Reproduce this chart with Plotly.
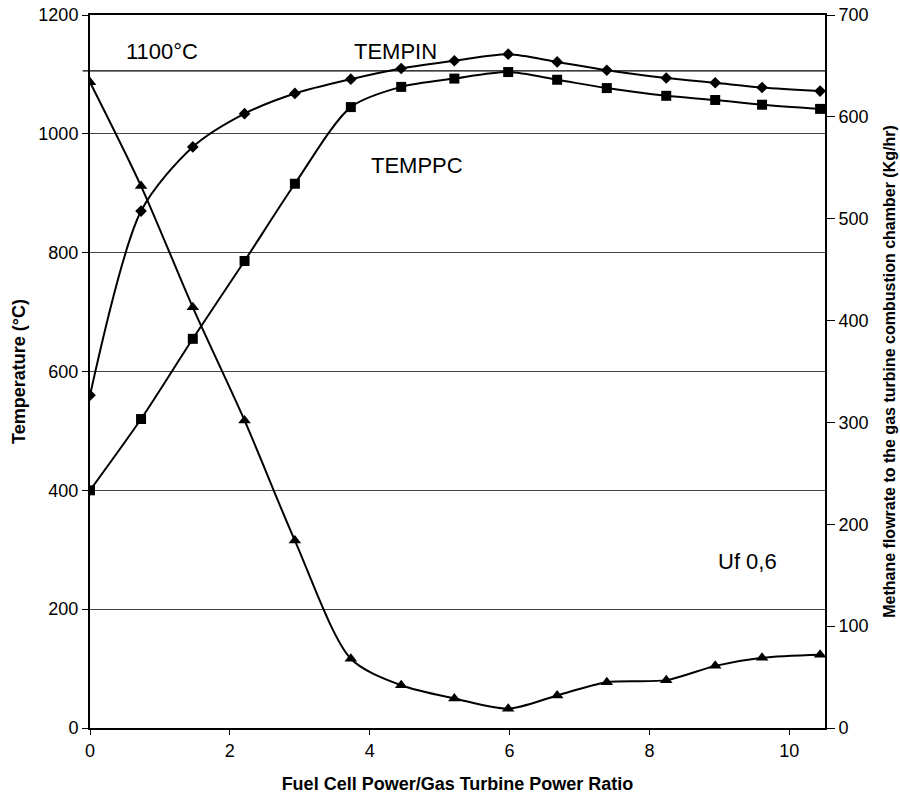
import plotly.graph_objects as go

# Fuel cell / gas turbine power ratio (shared x values)
ratio = [0.0, 0.73, 1.47, 2.21, 2.93, 3.73, 4.45, 5.21, 5.98, 6.68,
         7.39, 8.24, 8.94, 9.61, 10.44]

# Inlet temperature TEMPIN (°C)
tempin = [560, 870, 978, 1034, 1068, 1092, 1110, 1123, 1134, 1121,
          1107, 1094, 1086, 1078, 1072]

# Post-combustor temperature TEMPPC (°C)
temppc = [400, 520, 655, 786, 916, 1045, 1079, 1093, 1104, 1091,
          1077, 1064, 1057, 1049, 1042]

# Methane flow to the gas turbine combustion chamber (kg/hr)
methane = [634, 532, 413, 302, 184, 68, 42, 29, 19, 32,
           45, 47, 61, 69, 72]

limit_temp = 1106  # 1100 °C reference line

font_family = "Liberation Sans, Arial, sans-serif"

fig = go.Figure()

line_style = dict(color="black", width=2, shape="spline", smoothing=0.8)

fig.add_trace(go.Scatter(
    x=ratio, y=tempin, mode="lines+markers", name="TEMPIN",
    line=line_style,
    marker=dict(symbol="diamond", size=9, color="black"),
))
fig.add_trace(go.Scatter(
    x=ratio, y=temppc, mode="lines+markers", name="TEMPPC",
    line=line_style,
    marker=dict(symbol="square", size=10, color="black"),
))
fig.add_trace(go.Scatter(
    x=ratio, y=methane, mode="lines+markers", name="Uf 0,6",
    line=line_style, yaxis="y2",
    marker=dict(symbol="triangle-up", size=11, color="black"),
))

# 1100 °C limit line
fig.add_shape(type="line", xref="paper", yref="y",
              x0=-0.01, x1=1.0, y0=limit_temp, y1=limit_temp,
              line=dict(color="black", width=1.3))

text_font = dict(family=font_family, size=22, color="black")
fig.add_annotation(x=1.03, y=1138, text="1100°C", showarrow=False,
                   xanchor="center", yanchor="middle", font=text_font)
fig.add_annotation(x=4.37, y=1138, text="TEMPIN", showarrow=False,
                   xanchor="center", yanchor="middle", font=text_font)
fig.add_annotation(x=4.68, y=947, text="TEMPPC", showarrow=False,
                   xanchor="center", yanchor="middle", font=text_font)
fig.add_annotation(x=9.40, y=281, text="Uf 0,6", showarrow=False,
                   xanchor="center", yanchor="middle", font=text_font)

tick_font = dict(family=font_family, size=18, color="black")
title_font = dict(family=font_family, size=18, color="black", weight="bold")
title_font_r = dict(family=font_family, size=16, color="black", weight="bold")

fig.update_layout(
    width=900, height=797,
    margin=dict(l=90, r=75, t=15, b=69),
    paper_bgcolor="white", plot_bgcolor="white",
    showlegend=False,
    xaxis=dict(
        range=[0, 10.51], tickvals=[0, 2, 4, 6, 8, 10],
        ticks="outside", ticklen=5, tickcolor="black",
        showline=True, linecolor="black", linewidth=2, mirror=True,
        showgrid=False, zeroline=False, tickfont=tick_font,
        automargin=False,
        title=dict(text="Fuel Cell Power/Gas Turbine Power Ratio",
                   font=title_font, standoff=18),
    ),
    yaxis=dict(
        range=[0, 1200], tickvals=[0, 200, 400, 600, 800, 1000, 1200],
        ticks="outside", ticklen=6, tickcolor="black",
        showline=True, linecolor="black", linewidth=2,
        showgrid=True, gridcolor="#444444", gridwidth=1,
        zeroline=False, tickfont=tick_font, automargin=False,
        title=dict(text="Temperature (°C)", font=title_font, standoff=8),
    ),
    yaxis2=dict(
        range=[0, 700], tickvals=[0, 100, 200, 300, 400, 500, 600, 700],
        overlaying="y", side="right",
        ticks="outside", ticklen=8, tickcolor="black",
        showline=True, linecolor="black", linewidth=2,
        showgrid=False, zeroline=False, tickfont=tick_font, automargin=False,
        title=dict(text="Methane flowrate to the gas turbine combustion chamber (Kg/hr)",
                   font=title_font_r, standoff=16),
    ),
)

fig.write_html("out.html")
